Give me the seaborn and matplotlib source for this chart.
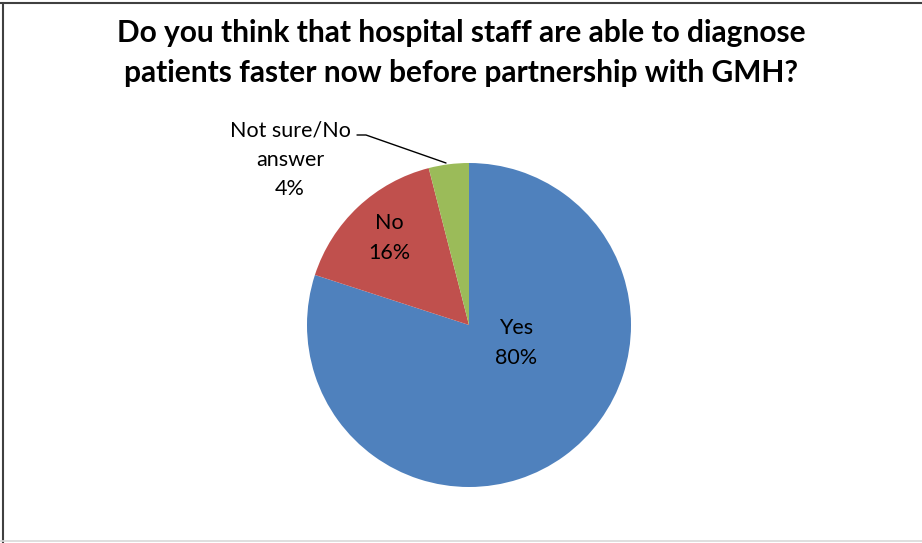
import matplotlib
matplotlib.use("Agg")
import matplotlib.pyplot as plt
from matplotlib.lines import Line2D
import seaborn as sns

# Survey responses
categories = ["Yes", "No", "Not sure/No\nanswer"]
shares = [80, 16, 4]
colors = ["#4F81BD", "#C0504D", "#9BBB59"]
title = ("Do you think that hospital staff are able to diagnose\n"
         "patients faster now before partnership with GMH?")

sns.set_theme(style="white")
plt.rcParams["font.family"] = ["Lato", "DejaVu Sans"]

W, H = 922, 543
fig = plt.figure(figsize=(W / 100, H / 100), dpi=100)
ax = fig.add_axes([0, 0, 1, 1])

# pie geometry in pixels (centre and radius)
cx, cy, R = 469, 325, 162

def px(x, y):
    """pixel (from top-left) -> data coordinates"""
    return (x - cx) / R, (cy - y) / R

ax.pie(shares, colors=colors, startangle=90, counterclock=False,
       radius=1.0, wedgeprops=dict(linewidth=0))
ax.set_xlim(-cx / R, (W - cx) / R)
ax.set_ylim((cy - H) / R, cy / R)
ax.set_aspect("auto")
ax.axis("off")

label_size = 15.5
label_pos = [(516, 343), (389, 238), (290, 160)]
for cat, val, (lx, ly) in zip(categories, shares, label_pos):
    x, y = px(lx, ly)
    ax.text(x, y, f"{cat}\n{val}%", ha="center", va="center",
            fontsize=label_size, color="black", linespacing=1.58)

# leader line for the small slice
pts = [px(357, 135), px(366, 135), px(446, 163)]
ax.plot([p[0] for p in pts], [p[1] for p in pts], color="black", lw=1.0)

fig.text(0.5, 1 - 53 / H, title, ha="center", va="center",
         fontsize=21.5, fontweight="bold", color="black", linespacing=1.5)

# chart border
fig.add_artist(Line2D([0, 1], [1 - 3 / H, 1 - 3 / H], color="#404040", lw=1.5))
fig.add_artist(Line2D([3 / W, 3 / W], [0, 1 - 3 / H], color="#404040", lw=1.5))
fig.add_artist(Line2D([0, 1], [1 - 541 / H, 1 - 541 / H], color="#d9d9d9", lw=1.2))

fig.savefig("out.png", dpi=100, facecolor="white")
